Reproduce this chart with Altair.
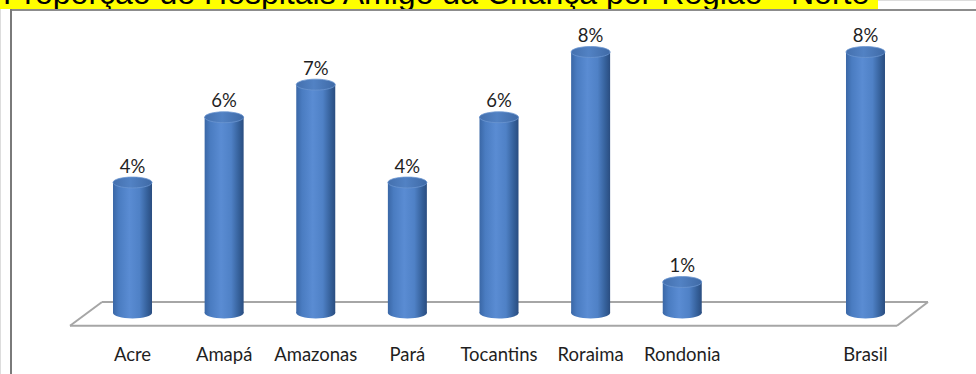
import altair as alt
import pandas as pd

# ---- data ----
categories = ["Acre", "Amapá", "Amazonas", "Pará", "Tocantins", "Roraima", "Rondonia", "Brasil"]
values = [4.0, 6.0, 7.0, 4.0, 6.0, 8.0, 0.95, 8.0]
labels = ["4%", "6%", "7%", "4%", "6%", "8%", "1%", "8%"]
x_domain = ["Acre", "Amapá", "Amazonas", "Pará", "Tocantins", "Roraima", "Rondonia", " ", "Brasil"]
title_text = "Proporção de Hospitais Amigo da Criança por Região - Norte"

df = pd.DataFrame({"cat": categories, "value": values, "label": labels, "zero": [0.0] * len(values)})
one = pd.DataFrame({"k": [0]})

FONT = "Lato"
ELLIPSE = "M-1,0A1,0.28,0,1,0,1,0A1,0.28,0,1,0,-1,0Z"
BAR_W = 39

body_grad = alt.LinearGradient(
    gradient="linear", x1=0, x2=1, y1=0, y2=0,
    stops=[
        alt.GradientStop(color="#3a67a6", offset=0),
        alt.GradientStop(color="#4a7cc1", offset=0.15),
        alt.GradientStop(color="#5a8cd3", offset=0.42),
        alt.GradientStop(color="#4f81c6", offset=0.68),
        alt.GradientStop(color="#35609a", offset=0.88),
        alt.GradientStop(color="#2a4d80", offset=1),
    ],
)
cap_grad = alt.LinearGradient(
    gradient="linear", x1=0, x2=1, y1=0, y2=0,
    stops=[
        alt.GradientStop(color="#4470ae", offset=0),
        alt.GradientStop(color="#5282c4", offset=0.45),
        alt.GradientStop(color="#3f6aa6", offset=1),
    ],
)

xenc = alt.X(
    "cat:N",
    sort=x_domain,
    scale=alt.Scale(domain=x_domain, range=[86.7, 911.3], paddingInner=0, paddingOuter=0),
    axis=alt.Axis(
        title=None, domain=False, ticks=False, grid=False, labelAngle=0,
        labelFont=FONT, labelFontSize=18.5, labelColor="#1f1f1f",
        labelBaseline="alphabetic", labelPadding=30, offset=-44,
    ),
)
yscale = alt.Scale(domain=[0, 8], range=[313, 52])

base = alt.Chart(df)
deco = alt.Chart(one)

# title highlight and text
title_bg = deco.mark_rect(color="#ffff00").encode(
    x=alt.value(0), x2=alt.value(878), y=alt.value(0), y2=alt.value(9)
)
title = deco.mark_text(
    text=title_text, font="Liberation Sans", fontSize=32, align="left",
    baseline="alphabetic", color="#000000",
).encode(x=alt.value(3), y=alt.value(4))

# frame border
border_top = deco.mark_rule(color="#8c8c8c", strokeWidth=2).encode(
    x=alt.value(10), x2=alt.value(976), y=alt.value(10), y2=alt.value(10)
)
border_left = deco.mark_rule(color="#7a7a7a", strokeWidth=2).encode(
    x=alt.value(11), x2=alt.value(11), y=alt.value(9), y2=alt.value(380)
)

# floor parallelogram
fl = dict(color="#a6a6a6", strokeWidth=2)
floor_back = deco.mark_rule(**fl).encode(x=alt.value(102), x2=alt.value(928), y=alt.value(302), y2=alt.value(302))
floor_front = deco.mark_rule(**fl).encode(x=alt.value(70), x2=alt.value(897), y=alt.value(325.7), y2=alt.value(325.7))
floor_left = deco.mark_rule(**fl).encode(x=alt.value(70), x2=alt.value(102), y=alt.value(325.7), y2=alt.value(302))
floor_right = deco.mark_rule(**fl).encode(x=alt.value(897), x2=alt.value(928), y=alt.value(325.7), y2=alt.value(302))

bottom_caps = base.mark_point(
    shape=ELLIPSE, size=BAR_W * BAR_W, filled=True, fill=body_grad, opacity=1, strokeWidth=0
).encode(x=xenc, y=alt.Y("zero:Q", scale=yscale, axis=None))

bars = base.mark_bar(width=BAR_W, fill=body_grad).encode(
    x=xenc, y=alt.Y("value:Q", scale=yscale, axis=None)
)

top_caps = base.mark_point(
    shape=ELLIPSE, size=BAR_W * BAR_W, filled=True, fill=cap_grad, opacity=1,
    stroke="#6b96d1", strokeWidth=0.8,
).encode(x=xenc, y=alt.Y("value:Q", scale=yscale, axis=None))

texts = base.mark_text(
    font=FONT, fontSize=18.5, baseline="alphabetic", dy=-10, color="#1f1f1f"
).encode(x=xenc, y=alt.Y("value:Q", scale=yscale, axis=None), text="label:N")

chart = alt.layer(
    title_bg, title, border_top, border_left,
    floor_back, floor_front, floor_left, floor_right,
    bottom_caps, bars, top_caps, texts,
).properties(
    width=976, height=374,
    autosize=alt.AutoSizeParams(type="none"),
    padding=0,
).configure_view(stroke="transparent", strokeWidth=0).configure_axis(
    domain=False, grid=False, ticks=False
).configure(background="white")

chart.save("out.html", embed_options={"renderer": "svg", "actions": False})
